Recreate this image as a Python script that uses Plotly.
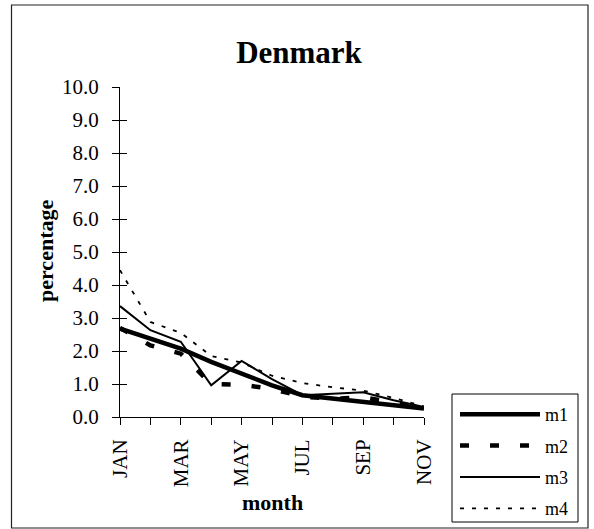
import plotly.graph_objects as go

# Monthly percentages for Denmark, four measures
months = ["JAN", "FEB", "MAR", "APR", "MAY", "JUN", "JUL", "AUG", "SEP", "OCT", "NOV"]
m1 = [2.68, 2.38, 2.07, 1.67, 1.30, 0.96, 0.66, 0.56, 0.49, 0.39, 0.26]
m2 = [2.70, 2.17, 1.92, 1.00, 0.98, 0.85, 0.62, 0.55, 0.60, 0.42, 0.27]
m3 = [3.36, 2.63, 2.28, 0.96, 1.70, 1.15, 0.66, 0.71, 0.75, 0.51, 0.30]
m4 = [4.45, 2.88, 2.55, 1.85, 1.65, 1.25, 1.03, 0.90, 0.80, 0.58, 0.32]
month_labels = [m if i % 2 == 0 else "" for i, m in enumerate(months)]
y_ticks = [0, 1, 2, 3, 4, 5, 6, 7, 8, 9, 10]

FONT = "Liberation Serif"
W, H = 594, 529
L, R, T, B = 120, 170, 87, 112
pw, ph = W - L - R, H - T - B


def px_x(v):
    return (v - L) / pw


def px_y(v):
    return (H - B - v) / ph


fig = go.Figure()
series = [
    ("m1", m1, dict(color="black", width=4.5)),
    ("m2", m2, dict(color="black", width=4.5, dash="9px,21px")),
    ("m3", m3, dict(color="black", width=2)),
    ("m4", m4, dict(color="black", width=1.8, dash="4px,8px")),
]
for name, vals, line in series:
    fig.add_trace(go.Scatter(x=months, y=vals, name=name, mode="lines",
                             line=line, legendgroup=name))

# empty overlay axes carrying the inner half of the crossing tick marks
fig.add_trace(go.Scatter(x=[], y=[], xaxis="x2", yaxis="y2", showlegend=False))

axis_common = dict(showgrid=False, zeroline=False, showline=True,
                   linecolor="black", linewidth=1, tickcolor="black",
                   ticklen=7, tickwidth=1, automargin=False)

fig.update_layout(
    width=W, height=H,
    margin=dict(l=L, r=R, t=T, b=B, autoexpand=False),
    paper_bgcolor="white", plot_bgcolor="white",
    font=dict(family=FONT, color="black"),
    title=dict(text="<b>Denmark</b>", x=299 / W, xanchor="center",
               y=1 - 52 / H, yanchor="middle",
               font=dict(family=FONT, size=31, color="black")),
    xaxis=dict(type="category", range=[0, 10], tickmode="array",
               tickvals=months, ticktext=month_labels, tickangle=-90,
               ticks="outside", ticklabelstandoff=6,
               tickfont=dict(family=FONT, size=21), **axis_common),
    yaxis=dict(range=[0, 10], tickmode="array", tickvals=y_ticks,
               tickformat=".1f", ticks="outside", ticklabelstandoff=9,
               tickfont=dict(family=FONT, size=21), **axis_common),
    xaxis2=dict(type="category", range=[0, 10], overlaying="x", anchor="y2",
                tickmode="array", tickvals=months, ticktext=[""] * len(months),
                ticks="inside", side="bottom", **axis_common),
    yaxis2=dict(range=[0, 10], overlaying="y", anchor="x2", side="left",
                tickmode="array", tickvals=y_ticks, showticklabels=False,
                ticks="inside", **axis_common),
    legend=dict(x=px_x(455), y=px_y(396), xanchor="left",
                yanchor="top", bgcolor="rgba(0,0,0,0)", borderwidth=0,
                traceorder="grouped", tracegroupgap=5, itemwidth=80,
                font=dict(family=FONT, size=18, color="black")),
    showlegend=True,
)

# axis titles
fig.add_annotation(text="<b>percentage</b>", xref="paper", yref="paper",
                   x=px_x(45), y=px_y(251), textangle=-90,
                   showarrow=False, xanchor="center", yanchor="middle",
                   font=dict(family=FONT, size=22))
fig.add_annotation(text="<b>month</b>", xref="paper", yref="paper",
                   x=px_x(272), y=px_y(502),
                   showarrow=False, xanchor="center", yanchor="middle",
                   font=dict(family=FONT, size=22))

# legend frame and outer chart frame
fig.add_shape(type="rect", xref="paper", yref="paper",
              x0=px_x(452), x1=px_x(578), y0=px_y(522), y1=px_y(394),
              line=dict(color="black", width=1))
fig.add_shape(type="rect", xref="paper", yref="paper",
              x0=px_x(11.5), x1=px_x(588), y0=px_y(528), y1=px_y(5),
              line=dict(color="#222", width=1.2))

fig.write_html("out.html")
